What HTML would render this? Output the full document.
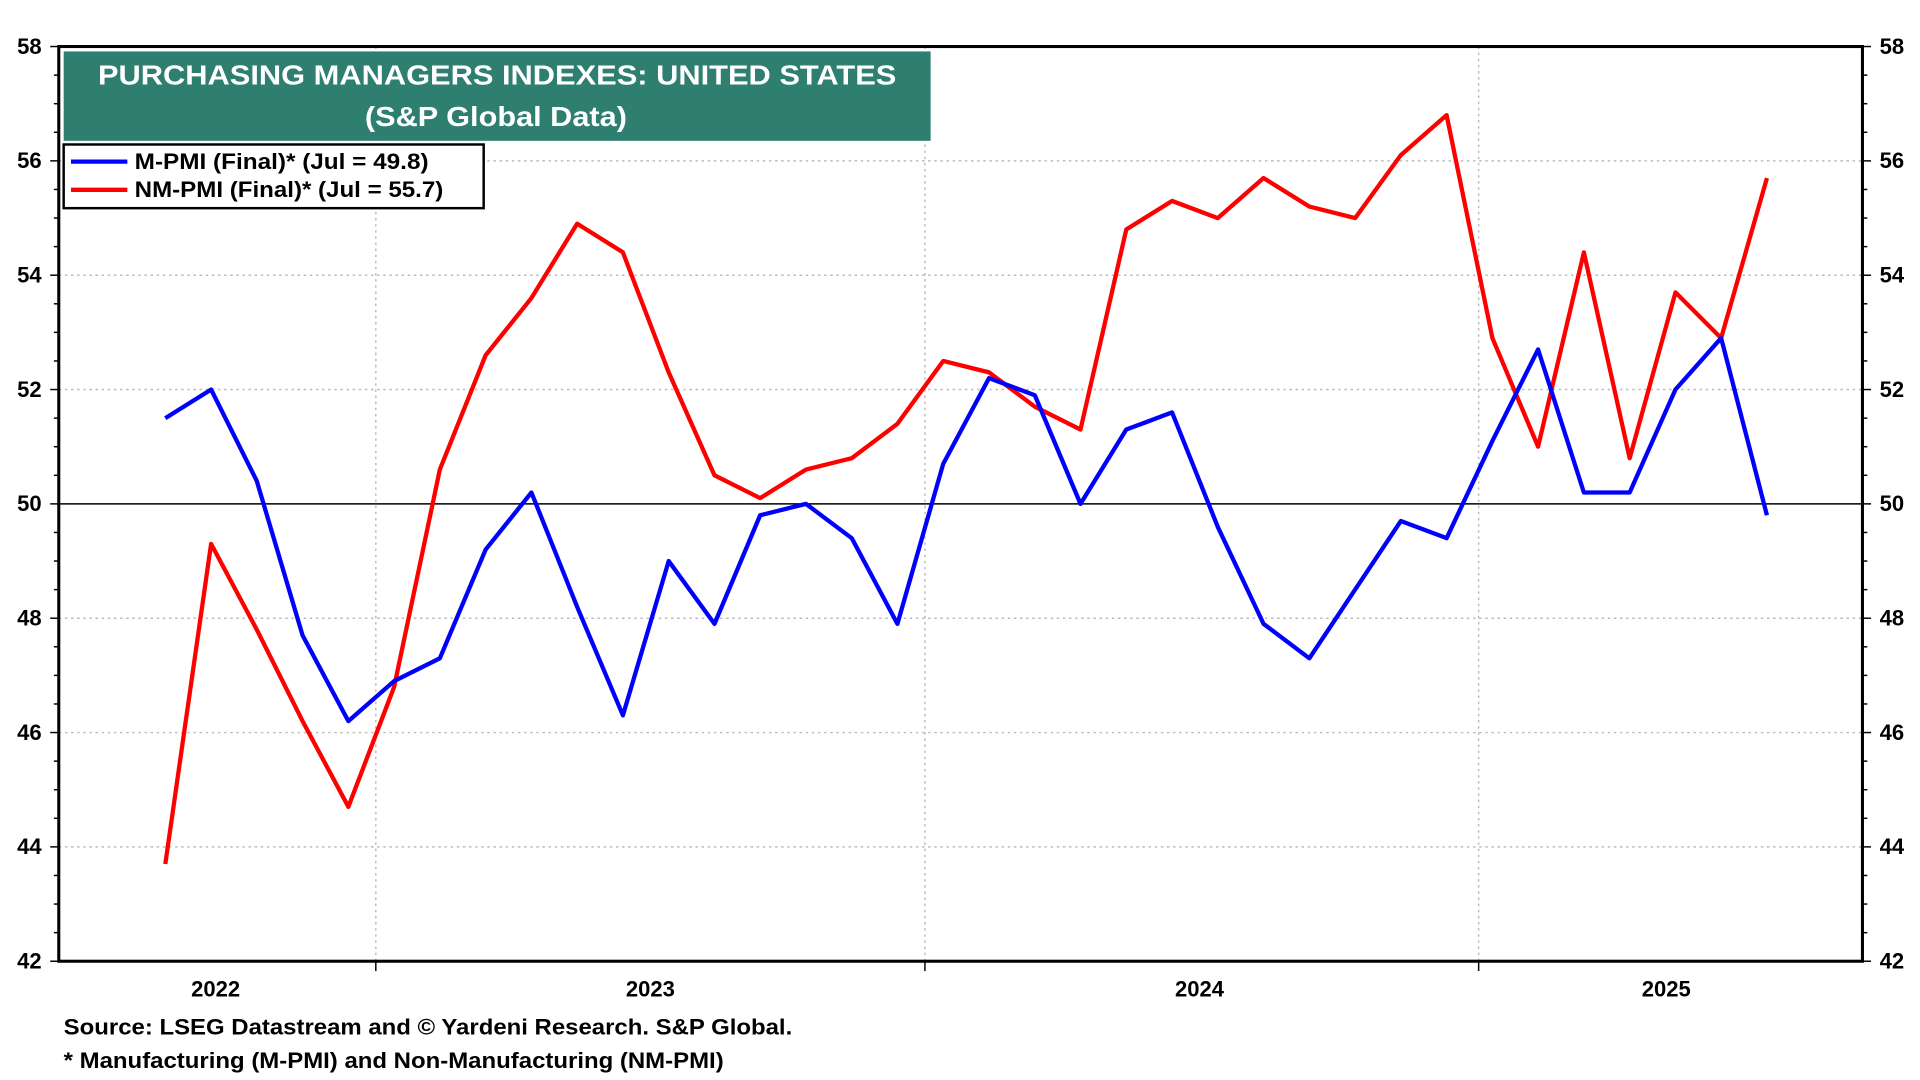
<!DOCTYPE html>
<html><head><meta charset="utf-8"><style>
html,body{margin:0;padding:0;background:#fff;}
svg{display:block;font-family:"Liberation Sans",Arial,sans-serif;font-weight:bold;}
</style></head><body>
<svg id="chart" width="1920" height="1080" viewBox="0 0 1568 882" xmlns="http://www.w3.org/2000/svg">
<g id="grid"></g>
<g id="axes"></g>
<g id="series"></g>
<rect x="52" y="42" width="708" height="73" fill="#2e7f70"/>
<text x="80" y="69" font-size="23" fill="#fff" textLength="652" lengthAdjust="spacingAndGlyphs">PURCHASING MANAGERS INDEXES: UNITED STATES</text>
<text x="298" y="103" font-size="23" fill="#fff" textLength="214" lengthAdjust="spacingAndGlyphs">(S&amp;P Global Data)</text>
<g>
<rect x="52" y="118" width="343" height="52" fill="#fff" stroke="#000" stroke-width="2"/>
<line x1="58" y1="132" x2="104" y2="132" stroke="#0000ff" stroke-width="3.5"/>
<text x="110" y="138" font-size="18" textLength="240" lengthAdjust="spacingAndGlyphs">M-PMI (Final)* (Jul = 49.8)</text>
<line x1="58" y1="155" x2="104" y2="155" stroke="#ff0000" stroke-width="3.5"/>
<text x="110" y="161" font-size="18" textLength="252" lengthAdjust="spacingAndGlyphs">NM-PMI (Final)* (Jul = 55.7)</text>
</g>
<text x="52" y="845" font-size="18" textLength="595" lengthAdjust="spacingAndGlyphs">Source: LSEG Datastream and © Yardeni Research. S&amp;P Global.</text>
<text x="52" y="872" font-size="18" textLength="539" lengthAdjust="spacingAndGlyphs">* Manufacturing (M-PMI) and Non-Manufacturing (NM-PMI)</text>
</svg>
<script>
const mpmi=[51.5,52.0,50.4,47.7,46.2,46.9,47.3,49.2,50.2,48.2,46.3,49.0,47.9,49.8,50.0,49.4,47.9,50.7,52.2,51.9,50.0,51.3,51.6,49.6,47.9,47.3,48.5,49.7,49.4,51.1,52.7,50.2,50.2,52.0,52.9,49.8];
const nmpmi=[43.7,49.3,47.8,46.2,44.7,46.8,50.6,52.6,53.6,54.9,54.4,52.3,50.5,50.1,50.6,50.8,51.4,52.5,52.3,51.7,51.3,54.8,55.3,55.0,55.7,55.2,55.0,56.1,56.8,52.9,51.0,54.4,50.8,53.7,52.9,55.7];
const yTicks=[42,44,46,48,50,52,54,56,58];
const yearLabels=["2022","2023","2024","2025"];
const yearIdx=[1.1,10.6,22.6,32.8];
const yearBoundIdx=[4.6,16.6,28.7];

const L=48,R=1521,T=38,B=785,YMIN=42,YMAX=58;
const x=i=>135+i*(1443-135)/35;
const y=v=>B-(v-YMIN)/(YMAX-YMIN)*(B-T);
const NS="http://www.w3.org/2000/svg";
function mk(tag,attrs,parent,text){const e=document.createElementNS(NS,tag);for(const k in attrs)e.setAttribute(k,attrs[k]);if(text!==undefined)e.textContent=text;parent.appendChild(e);return e;}
const grid=document.getElementById('grid'),axes=document.getElementById('axes'),series=document.getElementById('series');

yTicks.forEach(t=>{
  if(t>YMIN&&t<YMAX&&t!==50){const g=mk('line',{x1:L,x2:R,y1:y(t),y2:y(t),stroke:'#bbb','stroke-width':1.2,'stroke-dasharray':'2,3'},grid);
  
  }
  const a=mk('text',{x:L-14,y:y(t)+6,'text-anchor':'end','font-size':18},axes,String(t));
  
  
  const b=mk('text',{x:R+14,y:y(t)+6,'font-size':18},axes,String(t));
  
  
});
for(let v=YMIN;v<=YMAX;v+=0.5){const major=v%2===0;
  mk('line',{x1:L-(major?7:4),x2:L,y1:y(v),y2:y(v),stroke:'#000','stroke-width':1.2},axes);
  mk('line',{x1:R,x2:R+(major?7:4),y1:y(v),y2:y(v),stroke:'#000','stroke-width':1.2},axes);}
yearBoundIdx.forEach(i=>{
  const g=mk('line',{x1:x(i),x2:x(i),y1:T,y2:B,stroke:'#bbb','stroke-width':1.2,'stroke-dasharray':'2,3'},grid);
  
  
  mk('line',{x1:x(i),x2:x(i),y1:B,y2:B+8,stroke:'#000','stroke-width':1.2},axes);
});
yearLabels.forEach((l,k)=>{
  const t=mk('text',{x:x(yearIdx[k]),y:B+29,'text-anchor':'middle','font-size':18},axes,l);
  
  
});
const ref=mk('line',{x1:L,x2:R,y1:y(50),y2:y(50),stroke:'#000','stroke-width':1.2},axes);


const frame=mk('rect',{x:L,y:T,width:R-L,height:B-T,fill:'none',stroke:'#000','stroke-width':2.5},axes);



const pts=a=>a.map((v,i)=>x(i).toFixed(1)+','+y(v).toFixed(1)).join(' ');
const red=mk('polyline',{points:pts(nmpmi),fill:'none',stroke:'#ff0000','stroke-width':3.5,'stroke-linejoin':'round'},series);


const blue=mk('polyline',{points:pts(mpmi),fill:'none',stroke:'#0000ff','stroke-width':3.5,'stroke-linejoin':'round'},series);


</script>
</body></html>
